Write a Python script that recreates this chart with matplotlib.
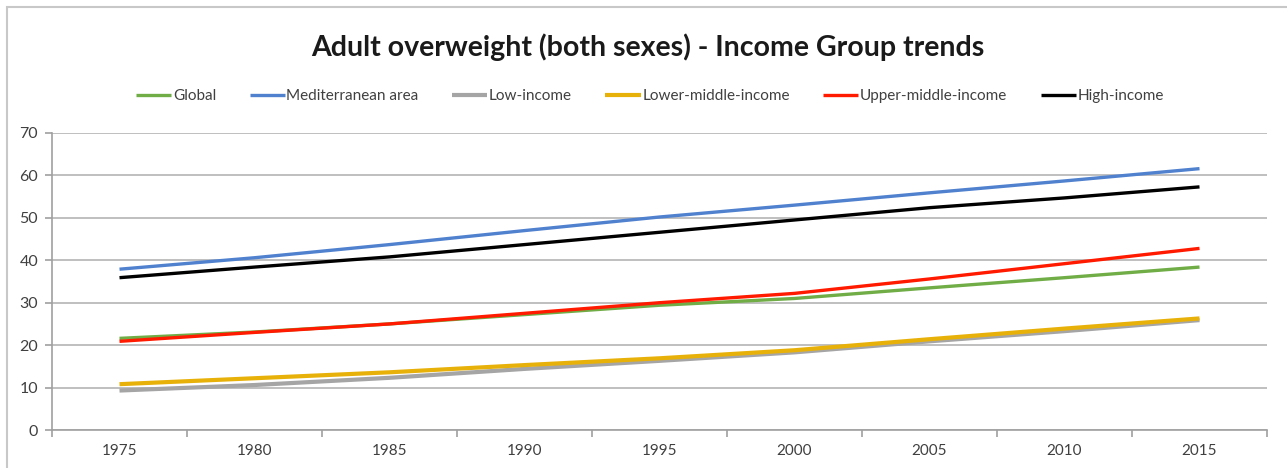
import numpy as np
import matplotlib
matplotlib.use("Agg")
import matplotlib.pyplot as plt
from matplotlib.patches import Rectangle

plt.rcParams['font.family']= ['Lato', 'DejaVu Sans']

years= ['1975','1980','1985','1990','1995','2000','2005','2010','2015']
global_= [21.6, 23.1, 25.0, 27.2, 29.4, 31.0, 33.5, 35.9, 38.4]
mediterranean= [37.9, 40.6, 43.7, 47.0, 50.2, 53.0, 55.9, 58.7, 61.6]
low_income= [9.3, 10.6, 12.3, 14.4, 16.3, 18.3, 20.9, 23.3, 25.9]
lower_middle= [10.8, 12.2, 13.6, 15.3, 16.9, 18.8, 21.4, 23.9, 26.3]
upper_middle= [20.9, 23.0, 25.0, 27.5, 30.0, 32.2, 35.6, 39.2, 42.8]
high_income= [35.9, 38.4, 40.8, 43.7, 46.6, 49.5, 52.4, 54.7, 57.3]

series= [("Global", global_, '#70AD47', 2.4),
         ("Mediterranean area", mediterranean, '#4F81CF', 2.4),
         ("Low-income", low_income, '#A5A5A5', 3.0),
         ("Lower-middle-income", lower_middle, '#E8B10A', 3.0),
         ("Upper-middle-income", upper_middle, '#FF1A00', 2.4),
         ("High-income", high_income, '#000000', 2.4)]

W, H= 1287, 468
fig= plt.figure(figsize=(W/100, H/100), dpi=100)
fig.patches.append(Rectangle((7/W, -0.1), 1.2, 1.1 - 7/H, transform=fig.transFigure,
                             facecolor='none', edgecolor='#C8C8C8', lw=1.5))

ax= fig.add_axes([52/W, 1-430/H, (1267-52)/W, (430-133)/H])
x= np.arange(len(years))
for name, vals, col, lw in series:
    ax.plot(x, vals, color=col, lw=lw, label=name, solid_capstyle='butt')

ax.set_xlim(-0.5, len(years)-0.5)
ax.set_ylim(0, 70)
ax.set_yticks(np.arange(0, 71, 10))
ax.yaxis.grid(True, color='#BFBFBF', lw=1.4)
ax.set_axisbelow(True)
ax.set_xticks(x)
ax.set_xticklabels(years)
ax.set_xticks(np.arange(-0.5, len(years)), minor=True)
ax.tick_params(axis='x', which='major', length=0, pad=10, labelsize=11, labelcolor='#404040')
ax.tick_params(axis='x', which='minor', length=5, color='#A0A0A0', width=1.2)
ax.tick_params(axis='y', length=5, color='#A0A0A0', width=1.2, labelsize=11.5, labelcolor='#404040', pad=5)
for s in ['top', 'right']:
    ax.spines[s].set_visible(False)
for s in ['left', 'bottom']:
    ax.spines[s].set_color('#A0A0A0')
    ax.spines[s].set_linewidth(1.2)

fig.text(648/W, 1-47/H, "Adult overweight (both sexes) - Income Group trends",
         ha='center', va='center', fontsize=20.5, fontweight='bold', color='#1a1a1a')

fig.legend(loc='center', bbox_to_anchor=(650/W, 1-96/H), ncol=6, frameon=False,
           fontsize=11, handlelength=2.3, handletextpad=0.1, columnspacing=2.2,
           labelcolor='#404040')

fig.savefig("out.png", dpi=100)
